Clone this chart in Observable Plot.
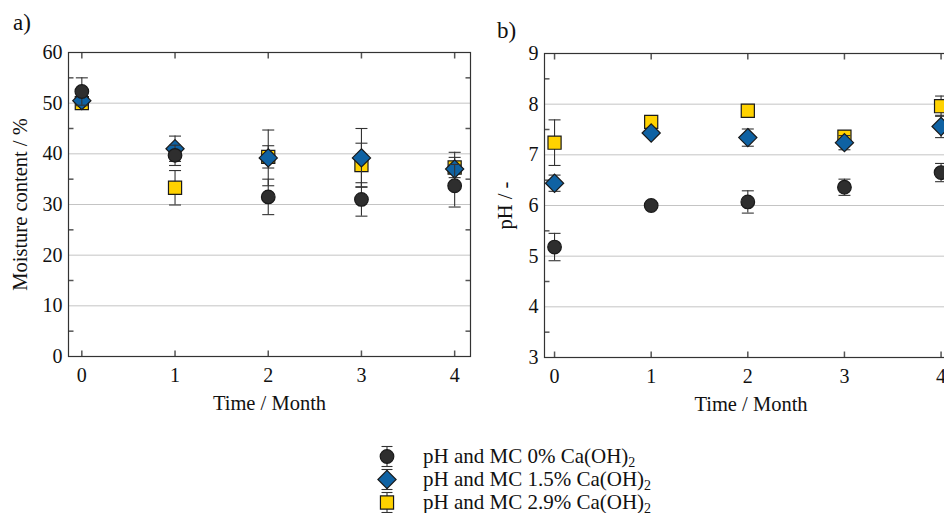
<!DOCTYPE html>
<html><head><meta charset="utf-8">
<script src="https://cdn.jsdelivr.net/npm/d3@7"></script>
<script src="https://cdn.jsdelivr.net/npm/@observablehq/plot@0.6"></script>
<style>
html,body{margin:0;padding:0;background:#fff;}
body{width:944px;height:513px;overflow:hidden;position:relative;font-family:"Liberation Serif","Times New Roman",serif;color:#111;}
#a{position:absolute;left:0;top:0;width:480px;}
#b{position:absolute;left:490px;top:0;width:480px;}
#a svg,#b svg{max-width:none !important;}
.plab{position:absolute;font-size:23px;line-height:1;}
#legend{position:absolute;left:372px;top:445px;font-size:21px;line-height:1;}
.row{display:flex;align-items:center;height:23px;white-space:nowrap;}
.row svg{margin-right:21px;overflow:visible;}
sub{font-size:14px;vertical-align:-4px;line-height:0;}
</style>
</head><body>
<div id="a"></div>
<div id="b"></div>
<div class="plab" style="left:13px;top:11px;">a)</div>
<div class="plab" style="left:497px;top:19px;">b)</div>
<div id="legend"></div>
<script>
// ---- data ----
const months = [0, 1, 2, 3, 4];
const seriesNames = ["pH and MC 0% Ca(OH)", "pH and MC 1.5% Ca(OH)", "pH and MC 2.9% Ca(OH)"];
// Moisture content (%)
const mc0 = [52.3, 39.7, 31.5, 31.0, 33.7];
const mc0Err = [2.7, 2.0, 3.5, 3.3, 4.2];
const mc15 = [50.5, 41.0, 39.2, 39.2, 37.0];
const mc15Err = [1.0, 2.5, 5.5, 5.8, 3.3];
const mc29 = [50.0, 33.3, 39.4, 37.8, 37.3];
const mc29Err = [1.0, 3.4, 2.2, 4.3, 2.0];
// pH
const ph0 = [5.18, 6.0, 6.07, 6.36, 6.65];
const ph0Err = [0.27, 0.05, 0.22, 0.16, 0.18];
const ph15 = [6.44, 7.43, 7.34, 7.24, 7.56];
const ph15Err = [0.16, 0.05, 0.17, 0.14, 0.22];
const ph29 = [7.24, 7.65, 7.87, 7.36, 7.96];
const ph29Err = [0.45, 0.08, 0.05, 0.05, 0.2];
const mcTicks = [0, 10, 20, 30, 40, 50, 60];
const mcMinor = [5, 15, 25, 35, 45, 55];
const phTicks = [3, 4, 5, 6, 7, 8, 9];
const phMinor = [3.5, 4.5, 5.5, 6.5, 7.5, 8.5];

// ---- styles ----
const colors = ["#2e2e2e", "#0f62a3", "#ffd200"];
const symbols = ["circle", "diamond2", "square"];
const radii = [6.8, 8.2, 7.4];
const FONT = '"Liberation Serif","Times New Roman",serif';

const capSym = {draw(ctx){ctx.moveTo(-6,0);ctx.lineTo(6,0);}};
const hTick = (len) => ({draw(ctx){ctx.moveTo(0,0);ctx.lineTo(len,0);}});
const vTick = (len) => ({draw(ctx){ctx.moveTo(0,0);ctx.lineTo(0,len);}});

function rows(vals, errs) {
  return months.map((m, i) => ({m, v: vals[i], lo: vals[i] - errs[i], hi: vals[i] + errs[i]}));
}

function seriesMarks(data, k) {
  return [
    Plot.ruleX(data, {x: "m", y1: "lo", y2: "hi", stroke: "#333", strokeWidth: 1.1}),
    Plot.dot(data, {x: "m", y: "lo", symbol: capSym, stroke: "#333", strokeWidth: 1.1, fill: "none"}),
    Plot.dot(data, {x: "m", y: "hi", symbol: capSym, stroke: "#333", strokeWidth: 1.1, fill: "none"}),
    Plot.dot(data, {x: "m", y: "v", symbol: symbols[k], r: radii[k], fill: colors[k], stroke: "#1a1a1a", strokeWidth: 1.2})
  ];
}

function panel({width, height, mL, mR, mT, mB, xDomain, yDomain, yTicks, yMinor, yLabel, yLabelDx, series}) {
  const tickCol = "#555";
  return Plot.plot({
    width, height,
    marginLeft: mL, marginRight: mR, marginTop: mT, marginBottom: mB,
    style: {fontFamily: FONT, fontSize: "20px", color: "#111", background: "transparent"},
    x: {domain: xDomain},
    y: {domain: yDomain},
    marks: [
      Plot.gridY(yTicks, {stroke: "#c4c4c4", strokeOpacity: 1, strokeWidth: 1}),
      Plot.axisY(yTicks, {tickSize: 0, tickPadding: 6, label: null, tickFormat: d => String(d), fontSize: 20}),
      Plot.axisX(months, {tickSize: 0, tickPadding: 11, label: null, tickFormat: d => String(d), fontSize: 20}),
      Plot.dot(yMinor, {y: d => d, frameAnchor: "left", symbol: hTick(5), stroke: tickCol, fill: "none"}),
      Plot.dot(yMinor, {y: d => d, frameAnchor: "right", symbol: hTick(-5), stroke: tickCol, fill: "none"}),
      Plot.dot(months, {x: d => d, frameAnchor: "top", symbol: vTick(6), stroke: tickCol, fill: "none"}),
      Plot.dot(months, {x: d => d, frameAnchor: "bottom", symbol: vTick(-6), stroke: tickCol, fill: "none"}),
      Plot.frame({stroke: "#333", strokeWidth: 1.2}),
      ...series[2], ...series[1], ...series[0],
      Plot.text([yLabel], {text: d => d, frameAnchor: "left", textAnchor: "middle", lineAnchor: "middle", rotate: -90, dx: yLabelDx, fontSize: 20.5}),
      Plot.text(["Time / Month"], {text: d => d, frameAnchor: "bottom", textAnchor: "middle", lineAnchor: "middle", dy: 47, fontSize: 20.5})
    ]
  });
}

const mcSeries = [rows(mc0, mc0Err), rows(mc15, mc15Err), rows(mc29, mc29Err)].map((d, k) => seriesMarks(d, k));
const phSeries = [rows(ph0, ph0Err), rows(ph15, ph15Err), rows(ph29, ph29Err)].map((d, k) => seriesMarks(d, k));

document.getElementById("a").append(panel({
  width: 480, height: 420, mL: 68, mR: 10, mT: 52, mB: 64,
  xDomain: [-0.143, 4.17], yDomain: [0, 60], yTicks: mcTicks, yMinor: mcMinor,
  yLabel: "Moisture content / %", yLabelDx: -48, series: mcSeries
}));
document.getElementById("b").append(panel({
  width: 480, height: 420, mL: 54, mR: 13, mT: 53, mB: 63,
  xDomain: [-0.104, 4.17], yDomain: [3, 9], yTicks: phTicks, yMinor: phMinor,
  yLabel: "pH / -", yLabelDx: -39, series: phSeries
}));

// ---- legend ----
const legend = document.getElementById("legend");
seriesNames.forEach((name, k) => {
  const row = document.createElement("div");
  row.className = "row";
  const s = d3.create("svg").attr("width", 30).attr("height", 23);
  const g = s.append("g").attr("transform", "translate(15,11.5)");
  g.append("line").attr("y1", -10).attr("y2", 10).attr("stroke", "#333").attr("stroke-width", 1.1);
  g.append("line").attr("x1", -5.5).attr("x2", 5.5).attr("y1", -10).attr("y2", -10).attr("stroke", "#333").attr("stroke-width", 1.1);
  g.append("line").attr("x1", -5.5).attr("x2", 5.5).attr("y1", 10).attr("y2", 10).attr("stroke", "#333").attr("stroke-width", 1.1);
  const symType = [d3.symbolCircle, d3.symbolDiamond2, d3.symbolSquare][k];
  g.append("path").attr("d", d3.symbol(symType, Math.PI * radii[k] * radii[k])())
    .attr("fill", colors[k]).attr("stroke", "#1a1a1a").attr("stroke-width", 1.2);
  row.append(s.node());
  const span = document.createElement("span");
  span.innerHTML = name + "<sub>2</sub>";
  row.append(span);
  legend.append(row);
});
</script>
</body></html>
